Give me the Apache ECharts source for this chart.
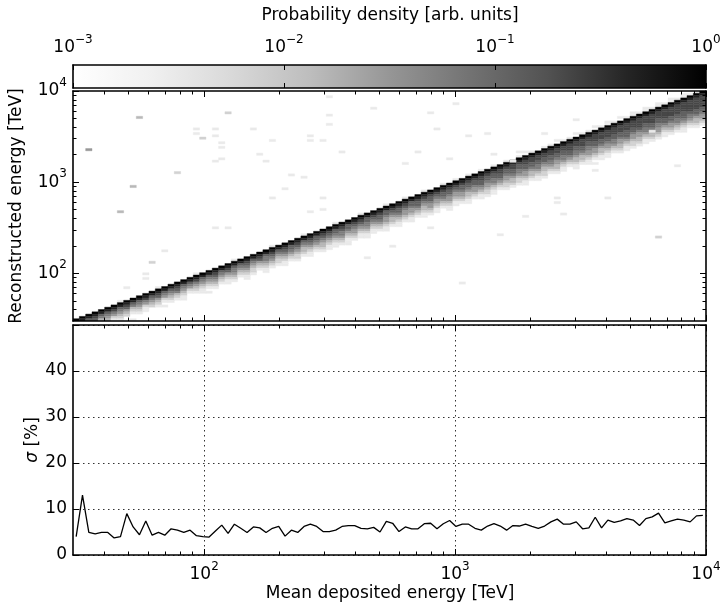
<!DOCTYPE html>
<html><head><meta charset="utf-8">
<script src="https://cdn.jsdelivr.net/npm/echarts@6/dist/echarts.min.js"></script>
<style>html,body{margin:0;padding:0;background:#fff}#c{width:721px;height:605px}</style>
</head><body><div id="c"></div>
<script>
// ---------------- data ----------------
const histRange = [30, 10000];          // TeV, histogram range of both axes
const nBins = 100;                       // log bins per axis
const cbRange = [1e-3, 1];               // colour scale range
const cbTicks = [1e-3, 1e-2, 1e-1, 1];
const energyTicks = [100, 1000, 10000];
const energyMinorTicks = [40,50,60,70,80,90,200,300,400,500,600,700,800,900,2000,3000,4000,5000,6000,7000,8000,9000];
const greysStops = [1.0, 0.94117647, 0.85098039, 0.74117647, 0.58823529, 0.45098039, 0.32156863, 0.14509804, 0.0];
// density level codes used in the column profiles
const levelValues = [0, 0.003, 0.007, 0.015, 0.03, 0.06, 0.12, 0.22, 0.45, 1.0];
// per deposited-energy column: codes from 2 bins above the diagonal downwards
const columnProfiles = [
"00986543200000000","00987532100000000","00986542100000000","00987643210000000","00986532110000000",
"00986543201000000","00987542100000000","01986543210000000","00987643200000000","00986532100100000",
"00986543210000000","00987542110000000","00986543200000000","01987643210000000","00986542101000000",
"00986543210000000","00987653210000000","00986543211000000","00986542100000000","01987543210000000",
"00986543211000000","00986543210100000","00987654321000000","00986543210000000","00987643211000000",
"01986554321000000","00986543210000000","00987654321100000","00986543221000000","00987643210000000",
"00986554321100000","01987654321000000","00986543221000000","00987654321100000","00986654321000000",
"00987654322100000","01986543321000000","00987654321100000","00986654321000000","00987654332100000",
"00987654321100000","01986654321100000","00987655432100000","00986654321110000","00987654432100000",
"01987654321100000","00986655432110000","00987654321100000","00987665432100000","01986654432110000",
"00987654332100000","00987665432110000","01987654432100000","00986654432110000","00987665432100000",
"01987654332110000","00987665443210000","00987654432110000","01987665432100000","00987665443211000",
"01987654432110000","00987665443210000","01987665433211000","00987665443210000","01987766543211000",
"00987665443221000","01987665543211000","00987766543210000","01987665443221000","00987766543321000",
"01987665543221000","10987766544321100","01987766543321000","00987766554321100","01987766543322100",
"01987766554321000","10987766544332100","01987766554321100","01987776654321000","10987766554332110",
"01987776654332100","01987766554432110","10987776654432100","01987776654332110","11987776654432110",
"01987776655432100","10987776654433210","01987776665432110","11987776654432210","01987777654433210",
"11987776655432110","01987777665433210","11987776655443210","01987777665432110","11987777665443210",
"01987777665543210","11987777666543211","01987777765543210","11987777766543321","11987777766544321"
];
// isolated cells: [column bin, row bin, level code]
const outliers = [
[2,74,4],[10,88,3],[24,90,2],[9,58,3],[7,47,3],[16,64,2],[19,83,1],[19,81,1],[22,83,1],[22,80,1],
[20,79,2],[23,77,1],[23,75,1],[22,69,1],[23,70,1],[28,83,1],[31,78,1],[30,69,1],[29,72,1],[34,63,1],
[36,62,1],[37,80,1],[37,78,1],[39,78,1],[40,97,1],[40,89,1],[40,85,1],[42,73,1],[33,57,1],[31,53,1],
[39,48,1],[37,47,1],[39,53,1],[12,25,2],[11,20,1],[11,18,1],[14,30,1],[8,14,1],[22,40,1],[24,40,1],
[60,94,1],[47,92,1],[56,90,1],[57,83,1],[65,81,1],[74,81,1],[79,87,1],[54,73,1],[59,70,1],[52,68,1],
[62,80,1],[66,72,1],[69,69,1],[70,73,1],[92,36,2],[84,53,1],[95,67,1],[77,46,1],[71,45,1],[67,37,1],
[61,16,1],[56,40,1],[50,32,1],[46,27,1],[76,53,1],[76,51,1],[82,68,1],[82,65,1],[91,82,1]
];
// energy resolution sigma [%] per deposited-energy bin
const sigmaPercent = [
4.0,13.0,4.9,4.6,4.9,4.9,3.7,4.0,9.0,6.1,
4.4,7.4,4.3,4.9,4.3,5.7,5.4,4.9,5.4,4.2,
4.0,3.9,5.2,6.5,4.7,6.7,5.8,4.9,6.1,5.9,
4.9,5.8,6.2,4.1,5.4,4.9,6.2,6.7,6.2,5.1,
5.1,5.4,6.2,6.4,6.4,
5.8,5.7,6.0,5.0,7.3,6.9,5.1,6.1,5.7,5.7,
6.8,6.9,5.7,6.8,7.5,6.2,6.7,6.7,5.8,5.4,
6.3,6.8,6.3,5.4,6.4,6.3,6.7,6.2,5.8,6.3,
7.2,7.8,6.7,6.7,7.2,5.7,5.9,8.2,5.9,7.6,
7.1,7.4,7.9,7.6,6.4,7.9,8.3,9.1,7.0,7.4,
7.8,7.6,7.2,8.5,8.6
];
const sigmaRange = [0, 50];
const sigmaInterval = 10;

// ---------------- build ----------------
const FONT = 'DejaVu Sans';
const FS = 17;
const lgMin = Math.log10(histRange[0]), lgMax = Math.log10(histRange[1]);
const binW = (lgMax - lgMin) / nBins;
const edge = i => Math.pow(10, lgMin + i * binW);
const centre = i => Math.pow(10, lgMin + (i + 0.5) * binW);

function greyColor(v) {
  const a = Math.log10(cbRange[0]), b = Math.log10(cbRange[1]);
  let t = (Math.log10(v) - a) / (b - a);
  t = Math.max(0, Math.min(1, t));
  const n = greysStops.length - 1;
  const p = t * n; const i = Math.min(n - 1, Math.floor(p)); const f = p - i;
  const g = Math.round(255 * (greysStops[i] + (greysStops[i + 1] - greysStops[i]) * f));
  return 'rgb(' + g + ',' + g + ',' + g + ')';
}

const cells = [];
function addCell(col, row, code) {
  if (!code || row < 0 || row >= nBins || col < 0 || col >= nBins) return;
  cells.push([edge(col), edge(row), edge(col + 1), edge(row + 1), levelValues[code]]);
}
columnProfiles.forEach((s, col) => {
  for (let k = 0; k < s.length; k++) addCell(col, col + 2 - k, +s[k]);
});
outliers.forEach(o => addCell(o[0], o[1], o[2]));

const sigmaData = sigmaPercent.map((s, i) => [centre(i), s]);

const supRich = {
  b: {fontFamily: FONT, fontSize: FS, color: '#000'},
  s: {fontFamily: FONT, fontSize: 12, color: '#000', padding: [0, 0, 16, 0]}
};
function powLabel(v) {
  const e = Math.round(Math.log10(v));
  return '{b|10}{s|' + (e < 0 ? '\u2212' + (-e) : e) + '}';
}

function mkAxis(type, grid, pos, min, max, o) {
  const ax = {
    type: type, gridIndex: grid, position: pos, min: min, max: max, z: 10,
    axisLine: {show: !!o.line, onZero: false, lineStyle: {color: '#000', width: 1.6}},
    axisTick: {show: !!o.ticks, inside: true, length: o.tickLen || 6, lineStyle: {color: '#000', width: 1}},
    axisLabel: {show: false},
    splitLine: {show: !!o.split, lineStyle: {color: '#333', width: 1, type: [1.5, 3.5]}},
    minorTick: {show: false}, minorSplitLine: {show: false},
    axisPointer: {show: false}
  };
  if (type === 'log') ax.logBase = 10;
  if (o.interval) ax.interval = o.interval;
  if (o.ticks && type === 'log') ax.axisTick.customValues = o.ticks;
  if (o.labels) {
    ax.axisLabel = {
      show: true, margin: o.margin, showMinLabel: true, showMaxLabel: true,
      fontFamily: FONT, fontSize: FS, color: '#000'
    };
    if (type === 'log') {
      ax.axisLabel.customValues = o.labels;
      ax.axisLabel.formatter = powLabel;
      ax.axisLabel.rich = supRich;
    } else {
      ax.axisLabel.formatter = o.fmt;
    }
  }
  return ax;
}

const xAxes = [
  // colour bar
  mkAxis('log', 0, 'top', cbRange[0], cbRange[1], {line: true, ticks: cbTicks, tickLen: 5, labels: cbTicks, margin: 3}),
  mkAxis('log', 0, 'bottom', cbRange[0], cbRange[1], {line: true, ticks: cbTicks, tickLen: 5}),
  // 2D histogram
  mkAxis('log', 1, 'bottom', histRange[0], histRange[1], {line: true, ticks: energyTicks, tickLen: 6}),
  mkAxis('log', 1, 'bottom', histRange[0], histRange[1], {ticks: energyMinorTicks, tickLen: 3.5}),
  mkAxis('log', 1, 'top', histRange[0], histRange[1], {line: true, ticks: energyTicks, tickLen: 6}),
  mkAxis('log', 1, 'top', histRange[0], histRange[1], {ticks: energyMinorTicks, tickLen: 3.5}),
  // resolution
  mkAxis('log', 2, 'bottom', histRange[0], histRange[1], {line: true, ticks: energyTicks, tickLen: 6, labels: energyTicks, margin: 6, split: true}),
  mkAxis('log', 2, 'bottom', histRange[0], histRange[1], {ticks: energyMinorTicks, tickLen: 3.5}),
  mkAxis('log', 2, 'top', histRange[0], histRange[1], {line: true, ticks: energyTicks, tickLen: 6}),
  mkAxis('log', 2, 'top', histRange[0], histRange[1], {ticks: energyMinorTicks, tickLen: 3.5})
];
const yAxes = [
  mkAxis('value', 0, 'left', 0, 1, {line: true}),
  mkAxis('log', 1, 'left', histRange[0], histRange[1], {line: true, ticks: energyTicks, tickLen: 6, labels: energyTicks, margin: 6}),
  mkAxis('log', 1, 'left', histRange[0], histRange[1], {ticks: energyMinorTicks, tickLen: 3.5}),
  mkAxis('log', 1, 'right', histRange[0], histRange[1], {line: true, ticks: energyTicks, tickLen: 6}),
  mkAxis('log', 1, 'right', histRange[0], histRange[1], {ticks: energyMinorTicks, tickLen: 3.5}),
  mkAxis('value', 2, 'left', sigmaRange[0], sigmaRange[1], {line: true, ticks: true, tickLen: 6, interval: sigmaInterval, labels: true, margin: 6, split: true,
    fmt: v => (v >= sigmaRange[1] ? '' : String(v))}),
  mkAxis('value', 2, 'right', sigmaRange[0], sigmaRange[1], {line: true, ticks: true, tickLen: 6, interval: sigmaInterval}),
  mkAxis('value', 0, 'right', 0, 1, {line: true})
];

const gridBase = {containLabel: false, outerBoundsMode: 'none', show: false};
const option = {
  animation: false,
  backgroundColor: '#fff',
  grid: [
    Object.assign({left: 73, top: 65, width: 633, height: 23}, gridBase),
    Object.assign({left: 73, top: 91, width: 633, height: 230}, gridBase),
    Object.assign({left: 73, top: 325, width: 633, height: 230}, gridBase)
  ],
  xAxis: xAxes,
  yAxis: yAxes,
  series: [
    {
      type: 'custom', xAxisIndex: 0, yAxisIndex: 0, silent: true,
      encode: {x: [0, 2], y: [1, 3]},
      data: [[cbRange[0], 0, cbRange[1], 1]],
      renderItem: function (params, api) {
        const p0 = api.coord([api.value(0), api.value(3)]);
        const p1 = api.coord([api.value(2), api.value(1)]);
        const stops = greysStops.map((g, i) => {
          const c = Math.round(g * 255);
          return {offset: i / (greysStops.length - 1), color: 'rgb(' + c + ',' + c + ',' + c + ')'};
        });
        return {type: 'rect', shape: {x: p0[0], y: p0[1], width: p1[0] - p0[0], height: p1[1] - p0[1]},
          style: {fill: new echarts.graphic.LinearGradient(0, 0, 1, 0, stops)}};
      }
    },
    {
      type: 'custom', xAxisIndex: 2, yAxisIndex: 1, silent: true, clip: true,
      encode: {x: [0, 2], y: [1, 3]},
      data: cells,
      renderItem: function (params, api) {
        const p0 = api.coord([api.value(0), api.value(3)]);
        const p1 = api.coord([api.value(2), api.value(1)]);
        const c = greyColor(api.value(4));
        return {type: 'rect', shape: {x: p0[0], y: p0[1], width: p1[0] - p0[0], height: p1[1] - p0[1]},
          style: {fill: c, stroke: c, lineWidth: 0.4}};
      }
    },
    {
      type: 'line', xAxisIndex: 6, yAxisIndex: 5, data: sigmaData, symbol: 'none', silent: true,
      lineStyle: {color: '#000', width: 1.3}, clip: true
    }
  ],
  graphic: [
    {type: 'text', x: 390, y: 16, style: {text: 'Probability density [arb. units]', fontFamily: FONT, fontSize: FS, fill: '#000', align: 'center', verticalAlign: 'middle'}},
    {type: 'text', x: 390, y: 594, style: {text: 'Mean deposited energy [TeV]', fontFamily: FONT, fontSize: FS, fill: '#000', align: 'center', verticalAlign: 'middle'}},
    {type: 'text', x: 17, y: 206, rotation: Math.PI / 2, style: {text: 'Reconstructed energy [TeV]', fontFamily: FONT, fontSize: FS, fill: '#000', align: 'center', verticalAlign: 'middle'}},
    {type: 'text', x: 33, y: 440, rotation: Math.PI / 2, style: {text: '{i|\u03c3} [%]', fontFamily: FONT, fontSize: FS, fill: '#000', align: 'center', verticalAlign: 'middle',
      rich: {i: {fontFamily: FONT, fontSize: FS, fontStyle: 'italic', fill: '#000'}}}}
  ]
};
const chart = echarts.init(document.getElementById('c'), null, {renderer: 'canvas', width: 721, height: 605});
chart.setOption(option);
</script>
</body></html>
